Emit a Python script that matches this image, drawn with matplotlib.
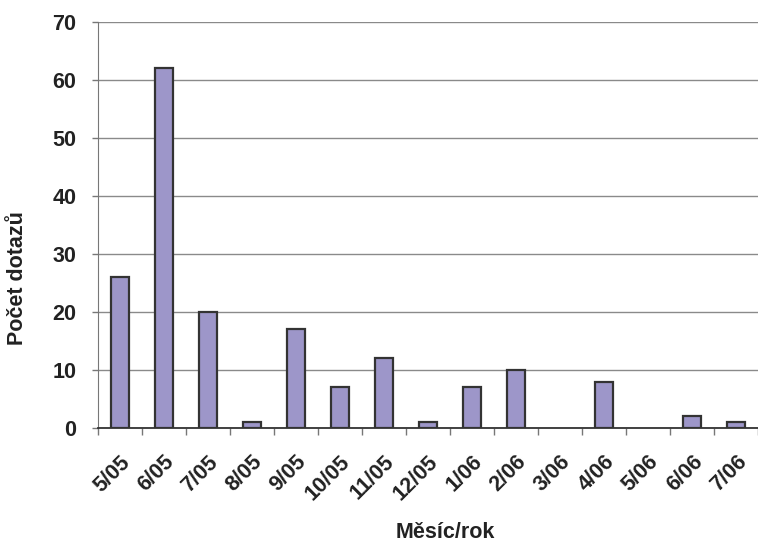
import matplotlib.pyplot as plt
import numpy as np

plt.rcParams['font.family'] = ['Liberation Sans', 'DejaVu Sans']

mesice = ["5/05", "6/05", "7/05", "8/05", "9/05", "10/05", "11/05", "12/05",
          "1/06", "2/06", "3/06", "4/06", "5/06", "6/06", "7/06"]
dotazy = [26, 62, 20, 1, 17, 7, 12, 1, 7, 10, 0, 8, 0, 2, 1]

fig = plt.figure(figsize=(7.58, 5.5), dpi=100)
ax = fig.add_axes([0.129, 0.222, 0.871, 0.738])

x = np.arange(len(mesice))
# zero-value months get no visible bar outline
lw = [1.6 if v > 0 else 0 for v in dotazy]
ax.bar(x, dotazy, width=0.41, color='#9D96C9', edgecolor='#333333', linewidth=lw, zorder=3)

ax.set_xlim(-0.5, len(mesice) - 0.5)
ax.set_ylim(0, 70)
ax.set_yticks(range(0, 71, 10))
ax.yaxis.grid(True, color='#8a8a8a', linewidth=1.0, zorder=0)

# category boundary ticks
ax.set_xticks(np.arange(len(mesice) + 1) - 0.5, minor=False)
ax.set_xticklabels([])
ax.set_xticks(x, minor=True)
ax.set_xticklabels(mesice, minor=True, rotation=45, ha='right', rotation_mode='anchor',
                   fontsize=15.5, fontweight='bold', color='#222222')
ax.tick_params(axis='x', which='minor', length=0, pad=17)
ax.tick_params(axis='x', which='major', length=5, color='#777777', width=1)
ax.tick_params(axis='y', length=4.5, color='#777777', width=1, labelsize=15.5, pad=11)
for lab in ax.get_yticklabels():
    lab.set_fontweight('bold')
    lab.set_color('#222222')

for s in ['top', 'right']:
    ax.spines[s].set_visible(False)
ax.spines['left'].set_color('#777777')
ax.spines['bottom'].set_color('#333333')
ax.spines['bottom'].set_linewidth(1.3)

ax.set_ylabel('Počet dotazů', fontsize=15.5, fontweight='bold', color='#222222')
ax.set_xlabel('Měsíc/rok', fontsize=15.5, fontweight='bold', color='#222222')
ax.yaxis.set_label_coords(-0.106, 0.369)
ax.xaxis.set_label_coords(0.526, -0.232)

fig.savefig('out.png', dpi=100)
